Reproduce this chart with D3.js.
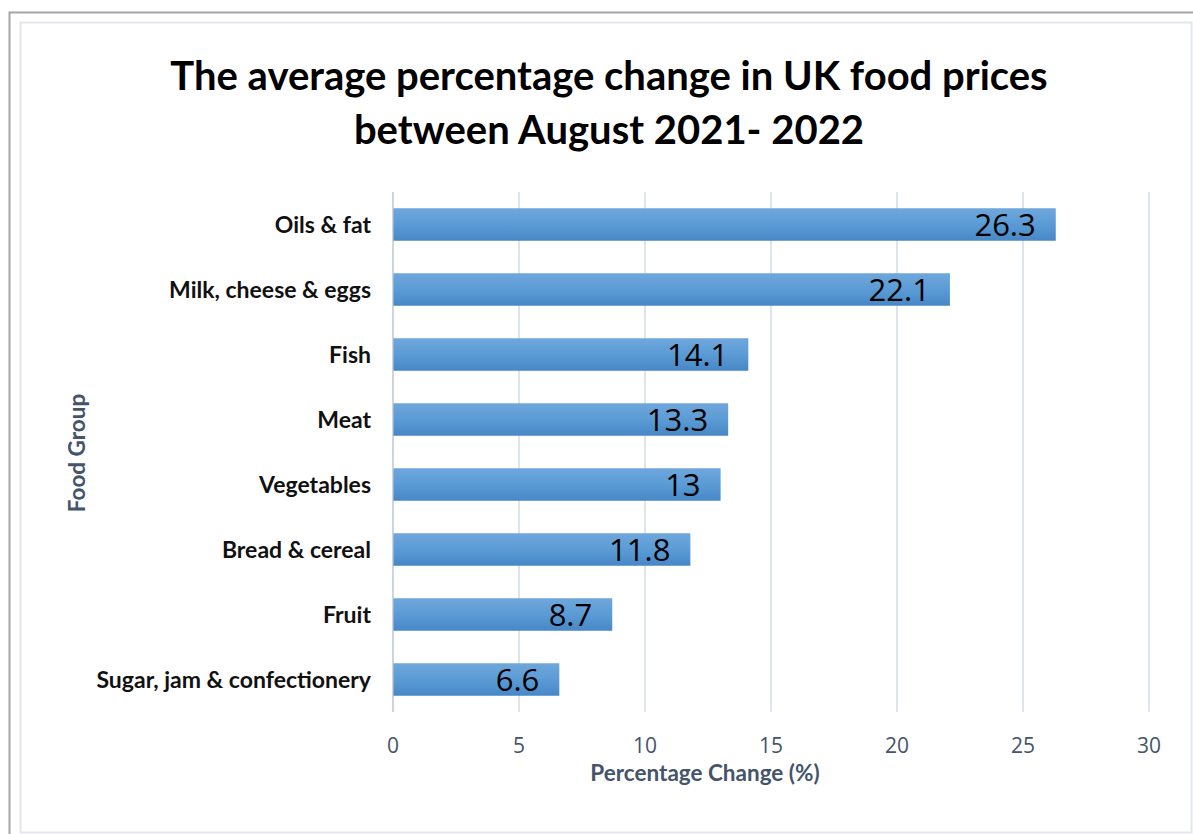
<!DOCTYPE html>
<html>
<head>
<meta charset="utf-8">
<script src="https://cdn.jsdelivr.net/npm/d3@7"></script>
<style>
  body { margin: 0; background: #fff; }
  svg { display: block; }
</style>
</head>
<body>
<script>
// chart data
const categories = ["Oils & fat", "Milk, cheese & eggs", "Fish", "Meat", "Vegetables",
                    "Bread & cereal", "Fruit", "Sugar, jam & confectionery"];
const values = [26.3, 22.1, 14.1, 13.3, 13, 11.8, 8.7, 6.6];
const xTicks = [0, 5, 10, 15, 20, 25, 30];
const titleLines = ["The average percentage change in UK food prices", "between August 2021- 2022"];

const width = 1193;
const height = 834;
const margin = {top: 192, right: 44, bottom: 122, left: 393};

const svg = d3.select("body").append("svg")
    .attr("width", width)
    .attr("height", height);

// bar gradient
const grad = svg.append("defs").append("linearGradient")
    .attr("id", "barGrad")
    .attr("x1", 0).attr("y1", 0).attr("x2", 0).attr("y2", 1);
grad.append("stop").attr("offset", "0%").attr("stop-color", "#6fa7dc");
grad.append("stop").attr("offset", "50%").attr("stop-color", "#5b9bd5");
grad.append("stop").attr("offset", "100%").attr("stop-color", "#4787c6");

// frames
svg.append("rect")
    .attr("x", 9.5).attr("y", 12.5)
    .attr("width", width).attr("height", height)
    .attr("fill", "none").attr("stroke", "#a6a6a6").attr("stroke-width", 2);
svg.append("rect")
    .attr("x", 20.5).attr("y", 22.5)
    .attr("width", 1171).attr("height", 810)
    .attr("fill", "#fff").attr("stroke", "#e3e6ec").attr("stroke-width", 2);

const x = d3.scaleLinear()
    .domain([0, 30])
    .range([margin.left, width - margin.right]);

const y = d3.scaleBand()
    .domain(categories)
    .range([margin.top, height - margin.bottom])
    .paddingInner(0.5)
    .paddingOuter(0.25);

// gridlines
svg.append("g")
  .selectAll("line")
  .data(xTicks)
  .join("line")
    .attr("x1", d => x(d)).attr("x2", d => x(d))
    .attr("y1", margin.top).attr("y2", height - margin.bottom)
    .attr("stroke", "#dfe3eb")
    .attr("stroke-width", 2);

// tick labels
svg.append("g")
  .selectAll("text")
  .data(xTicks)
  .join("text")
    .attr("x", d => x(d))
    .attr("y", 753)
    .attr("text-anchor", "middle")
    .attr("font-family", "'Open Sans', sans-serif")
    .attr("font-size", 21)
    .attr("fill", "#44546a")
    .text(d => d);

// bars
svg.append("g")
  .selectAll("rect")
  .data(values)
  .join("rect")
    .attr("x", x(0))
    .attr("y", (d, i) => y(categories[i]))
    .attr("width", d => x(d) - x(0))
    .attr("height", y.bandwidth())
    .attr("fill", "url(#barGrad)");

// left axis line
svg.append("line")
    .attr("x1", x(0)).attr("x2", x(0))
    .attr("y1", margin.top).attr("y2", height - margin.bottom)
    .attr("stroke", "#bfc7d5")
    .attr("stroke-width", 1);

// value labels
svg.append("g")
  .selectAll("text")
  .data(values)
  .join("text")
    .attr("x", d => x(d) - 20)
    .attr("y", (d, i) => y(categories[i]) + y.bandwidth() / 2)
    .attr("dy", "0.36em")
    .attr("text-anchor", "end")
    .attr("font-family", "'Open Sans', sans-serif")
    .attr("font-size", 31)
    .attr("fill", "#000")
    .text(d => d);

// category labels
svg.append("g")
  .selectAll("text")
  .data(categories)
  .join("text")
    .attr("x", 371)
    .attr("y", d => y(d) + y.bandwidth() / 2)
    .attr("dy", "0.36em")
    .attr("text-anchor", "end")
    .attr("font-family", "Lato, sans-serif")
    .attr("font-weight", "bold")
    .attr("font-size", 23)
    .attr("fill", "#111")
    .text(d => d);

// title
svg.append("g")
  .selectAll("text")
  .data(titleLines)
  .join("text")
    .attr("x", 609)
    .attr("y", (d, i) => 90 + i * 54)
    .attr("text-anchor", "middle")
    .attr("font-family", "Lato, sans-serif")
    .attr("font-weight", "bold")
    .attr("font-size", 40)
    .attr("fill", "#000")
    .text(d => d);

// axis titles
svg.append("text")
    .attr("x", 705)
    .attr("y", 781)
    .attr("text-anchor", "middle")
    .attr("font-family", "Lato, sans-serif")
    .attr("font-weight", "bold")
    .attr("font-size", 22.5)
    .attr("fill", "#44546a")
    .text("Percentage Change (%)");

svg.append("text")
    .attr("transform", "translate(85,453) rotate(-90)")
    .attr("text-anchor", "middle")
    .attr("font-family", "Lato, sans-serif")
    .attr("font-weight", "bold")
    .attr("font-size", 22.5)
    .attr("fill", "#44546a")
    .text("Food Group");
</script>
</body>
</html>
